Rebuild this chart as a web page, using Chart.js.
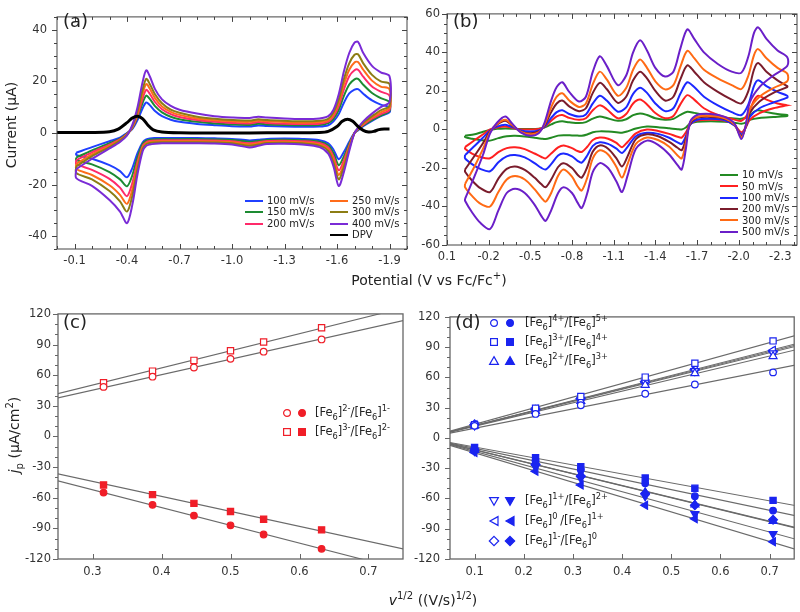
<!DOCTYPE html>
<html>
<head>
<meta charset="utf-8">
<script src="https://cdn.jsdelivr.net/npm/chart.js@4.4.1/dist/chart.umd.min.js"></script>
<style>
  body { margin:0; background:#fff; width:800px; height:612px; position:relative; overflow:hidden;
         font-family:'DejaVu Sans', sans-serif; color:#222; }
  canvas { position:absolute; }
  .t { position:absolute; white-space:nowrap; line-height:1; transform:translateY(-50%); }
  .c { transform:translate(-50%,-50%); }
  .rot { transform:translate(-50%,-50%) rotate(-90deg); }
  .leg { font-size:10px; }
  .fe { font-size:11.5px; }
  .ttl { font-size:14px; }
  .pl { font-size:18px; }
  .sw { position:absolute; width:18px; height:0; border-top:2.5px solid; }
  sub, sup { font-size:72%; line-height:0; }
  svg { position:absolute; }
</style>
</head>
<body>
<canvas id="ca" width="420" height="280" style="left:0;top:0"></canvas>
<canvas id="cb" width="400" height="280" style="left:400px;top:0"></canvas>
<canvas id="cc" width="420" height="290" style="left:0;top:300px"></canvas>
<canvas id="cd" width="400" height="290" style="left:400px;top:300px"></canvas>

<!-- подписи панелей -->
<div class="t pl" style="left:63px;top:21px">(a)</div>
<div class="t pl" style="left:453px;top:21px">(b)</div>
<div class="t pl" style="left:63px;top:322px">(c)</div>
<div class="t pl" style="left:455px;top:322px">(d)</div>

<!-- заголовки осей -->
<div class="t ttl rot" style="left:11px;top:125px">Current (µA)</div>
<div class="t ttl c" style="left:429px;top:280px">Potential (V vs Fc/Fc<sup>+</sup>)</div>
<div class="t ttl rot" style="left:14px;top:435px"><i>j</i><sub>p</sub> (µA/cm<sup>2</sup>)</div>
<div class="t ttl c" style="left:433px;top:600px"><i>v</i><sup>1/2</sup> ((V/s)<sup>1/2</sup>)</div>

<div id="legends"></div>

<script>
// ---------- (a) ЦВА при разных скоростях + DPV ----------
const aPot = [-0.11, -0.2, -0.3, -0.36, -0.4, -0.43, -0.46, -0.49, -0.51, -0.53, -0.56, -0.6, -0.65, -0.7, -0.8, -0.9, -1.0, -1.1, -1.15, -1.2,
              -1.3, -1.4, -1.5, -1.55, -1.58, -1.61, -1.64, -1.67, -1.7, -1.72, -1.75, -1.8, -1.85, -1.9];
// верхняя ветвь (слева направо)
const a400Up = [-14, -10, -6, -3.5, -1, 3, 10, 20, 24.3, 22, 17, 13, 10.5, 9, 7.5, 6.5, 6, 5.8, 6.3, 6, 5.6, 5.4, 5.6, 6.5, 9, 15, 24, 31, 35, 35.3, 31, 26, 23.5, 22];
const a300Up = [-13, -9, -5.5, -3, -0.8, 2.5, 8.5, 17, 21, 19, 15, 11.5, 9, 7.8, 6.3, 5.5, 5, 4.8, 5.3, 5, 4.7, 4.5, 4.7, 5.5, 8, 13, 21, 27, 30.3, 30.5, 27, 22.5, 20, 19];
const a250Up = [-12, -8.3, -5, -2.8, -0.6, 2.2, 7.7, 15.3, 19, 17.2, 13.5, 10.3, 8.2, 7, 5.6, 4.9, 4.5, 4.3, 4.8, 4.5, 4.2, 4, 4.2, 5, 7.2, 11.8, 19, 24.5, 27.3, 27.5, 24.5, 20.3, 18, 17];
const a200Up = [-10.5, -7.5, -4.5, -2.5, -0.4, 2, 6.8, 13.5, 16.7, 15.2, 12, 9.2, 7.3, 6.2, 5, 4.3, 3.9, 3.7, 4.2, 3.9, 3.6, 3.5, 3.6, 4.4, 6.4, 10.5, 17, 22, 24.3, 24.5, 21.8, 18, 16, 14.5];
const a150Up = [-9.5, -6.8, -4, -2.2, -0.2, 1.8, 6, 11.8, 14.5, 13.2, 10.4, 8, 6.3, 5.3, 4.3, 3.7, 3.3, 3.1, 3.6, 3.3, 3.1, 3, 3.1, 3.8, 5.5, 9, 14.5, 18.8, 20.8, 21, 18.7, 15.5, 13.5, 12];
const a100Up = [-7.7, -5.5, -3.2, -1.8, 0, 1.5, 5, 9.7, 11.8, 10.8, 8.5, 6.5, 5.1, 4.3, 3.5, 3, 2.6, 2.5, 2.9, 2.7, 2.5, 2.4, 2.5, 3, 4.5, 7.3, 11.8, 15.3, 16.8, 17, 15.2, 12.6, 11, 10];
// нижняя ветвь (на тех же потенциалах)
const a400Dn = [-17.5, -20.5, -26, -30.5, -35, -28, -16, -7, -5, -4.5, -4.2, -4, -4, -4, -4, -4.1, -4.5, -5.6, -5, -4.3, -4.2, -4.5, -5.5, -8, -13, -20.6, -15, -7, 0, 2, 4.5, 7.5, 10, 12];
const a300Dn = [-15.5, -18, -22.5, -26.5, -30.5, -24.5, -14, -6.2, -4.4, -3.9, -3.7, -3.6, -3.6, -3.6, -3.6, -3.7, -4, -5, -4.5, -3.9, -3.8, -4, -4.9, -7, -11.5, -18, -13, -6, 0, 1.8, 4, 6.5, 8.8, 10.5];
const a250Dn = [-14, -16.3, -20.3, -24, -27.5, -22, -12.6, -5.6, -4, -3.5, -3.3, -3.2, -3.2, -3.2, -3.2, -3.3, -3.6, -4.5, -4, -3.5, -3.4, -3.6, -4.4, -6.3, -10.3, -16.3, -11.8, -5.5, 0, 1.6, 3.6, 6, 8, 9.8];
const a200Dn = [-12, -14.3, -17.8, -21.2, -24.5, -19.5, -11.2, -5, -3.6, -3.1, -2.9, -2.8, -2.8, -2.8, -2.8, -2.9, -3.2, -4, -3.6, -3.1, -3, -3.2, -3.9, -5.6, -9.2, -14.5, -10.5, -4.9, 0, 1.4, 3.2, 5.5, 7.3, 9];
const a150Dn = [-10.5, -12.2, -15.2, -18, -20.7, -16.5, -9.4, -4.2, -3, -2.6, -2.5, -2.4, -2.4, -2.4, -2.4, -2.5, -2.7, -3.4, -3.1, -2.7, -2.6, -2.8, -3.4, -4.8, -7.9, -12.5, -9, -4.2, 0, 1.2, 2.9, 5, 6.7, 8.5];
const a100Dn = [-8.5, -10, -12.5, -14.8, -17.2, -13.7, -7.8, -3.6, -2.5, -2.1, -2, -2, -2, -2, -2, -2.1, -2.3, -2.9, -2.6, -2.3, -2.2, -2.3, -2.8, -4, -6.5, -10.2, -7.3, -3.4, 0, 1, 2.6, 4.7, 6.5, 8];
const dpvPot = [0, -0.1, -0.2, -0.3, -0.35, -0.4, -0.43, -0.46, -0.49, -0.52, -0.55, -0.6, -0.7, -0.9, -1.1, -1.3, -1.5, -1.55, -1.6, -1.63,
                -1.66, -1.69, -1.72, -1.75, -1.78, -1.81, -1.84, -1.87, -1.9];
const dpvCur = [0.2, 0.2, 0.2, 0.5, 1.5, 4, 5.8, 6.5, 5.5, 3, 1.2, 0.4, 0.1, 0, 0, 0.1, 0.2, 0.6, 2.5, 4.5, 5.3, 4.5, 2.5, 1, 0.4, 0.6, 1.3, 1.5, 1.5];
const aXTicks = [-0.1, -0.4, -0.7, -1.0, -1.3, -1.6, -1.9];
const aYTicks = [-40, -20, 0, 20, 40];

// ---------- (b) ЦВА при разных скоростях ----------
const bUpPot = [-0.03, -0.1, -0.16, -0.21, -0.26, -0.32, -0.37, -0.43, -0.5, -0.56, -0.6, -0.65, -0.69, -0.73, -0.78, -0.85, -0.9, -0.95, -1.0, -1.05,
                -1.13, -1.19, -1.24, -1.29, -1.34, -1.4, -1.47, -1.53, -1.58, -1.63, -1.68, -1.75, -1.85, -1.95, -2.02, -2.07, -2.11, -2.14, -2.2, -2.28, -2.35];
const bDnPot = [-0.03, -0.08, -0.14, -0.21, -0.27, -0.33, -0.39, -0.46, -0.53, -0.58, -0.61, -0.65, -0.7, -0.74, -0.8, -0.84, -0.87, -0.91, -0.95, -1.0,
                -1.06, -1.12, -1.16, -1.2, -1.26, -1.34, -1.42, -1.5, -1.56, -1.59, -1.62, -1.65, -1.7, -1.8, -1.9, -1.97, -2.02, -2.05, -2.08, -2.15, -2.25, -2.35];
const b500Up = [-36, -24, -13, -2, 3.5, 6.7, 3, -1.5, -3.3, -2, 3, 15, 22, 24.5, 19.5, 14.5, 17, 30, 38, 33, 23, 28, 40, 46.3, 41, 32, 27.5, 30, 42, 52, 47, 40, 34, 30, 29.5, 38, 50, 53, 47, 41, 37.5];
const b300Up = [-28.3, -19, -10, -1.5, 2.8, 5, 2.3, -1.2, -2.5, -1.5, 2.3, 11.5, 17, 18.8, 15, 11.7, 13.5, 23.5, 30, 26, 17.5, 21.5, 31, 36.3, 32, 25, 20.8, 23, 32.5, 40.8, 37, 31, 26.5, 23, 21, 28, 38.5, 41.7, 37, 32, 29];
const b200Up = [-20.8, -13.5, -7, -1, 2.5, 4.5, 2, -1, -2, -1, 1.8, 9, 13.5, 15, 12, 9.5, 11, 19, 24.2, 21, 13.8, 17, 25.5, 30, 26.5, 20, 15, 17, 26, 33.3, 30, 24.5, 19.5, 15.5, 13.5, 20, 31, 34.5, 30, 25.5, 22.5];
const b100Up = [-13.3, -8.5, -4.2, -0.5, 1.5, 2.5, 1.2, -0.5, -1, -0.5, 1.2, 6, 9, 10, 8, 6.7, 7.8, 13.5, 17.5, 15, 9.2, 11.5, 18.5, 21.7, 19, 13.5, 9.5, 11, 18.5, 24.5, 22, 17, 12.5, 9, 7.5, 13, 22.5, 25.5, 22.5, 19.5, 17.5];
const b50Up = [-9.2, -5.5, -2.5, 0, 1, 1.5, 0.8, 0, 0, 0.2, 1.2, 4.5, 6.8, 7.5, 6, 5, 5.8, 10, 12.5, 10.5, 5.8, 8, 13.5, 15.5, 13, 8.5, 5.8, 7, 13, 17.8, 15.5, 11, 7.5, 5.5, 4.5, 8.5, 15, 17.5, 15.5, 13.5, 12.5];
const b10Up = [-3.3, -2.5, -1.2, -0.3, 0.3, 0.5, 0.4, 0.2, 0.2, 0.4, 1, 2.6, 3.8, 4.2, 3.7, 3.3, 3.8, 5.6, 6.7, 5.9, 4.5, 5.3, 7.4, 8.3, 7.5, 5.8, 5, 5.5, 7.6, 9.2, 8.6, 7.5, 6.5, 5.8, 5.5, 6.8, 9.2, 10, 9, 8, 7.5];
const b500Dn = [-37, -43, -48.5, -51.7, -42, -33, -30.8, -33, -39, -45, -47.5, -42, -33, -30, -33, -38, -40.8, -33, -22, -17.5, -20, -27, -32.5, -24, -10, -5.8, -8, -13, -18.5, -20.8, -10, 4, 7.5, 8, 6.5, 3, -5, 2, 14, 22, 28, 33];
const b300Dn = [-30, -34.5, -38.5, -40, -32.5, -26, -24.2, -26, -31, -35.5, -37.5, -33, -24, -20.8, -24.5, -29.5, -31.7, -25, -15, -10.8, -13, -19.5, -25, -18, -7.5, -4.2, -5.5, -9, -13.5, -15, -7, 3.5, 6.5, 7, 5.8, 2.5, -4, 1.5, 10.5, 17, 21.5, 25];
const b200Dn = [-22, -26.5, -30.5, -32.5, -25.5, -20.5, -19.2, -21, -25, -28.5, -30, -26, -19.5, -17.5, -20, -23.5, -25, -19.5, -11.5, -8.3, -10, -15, -19.2, -14, -5, -2.5, -3.5, -6.5, -9.5, -10.8, -5, 3, 6, 6.5, 5.5, 2.5, -3.5, 1, 8.5, 14.5, 19, 22];
const b100Dn = [-15, -18, -20.5, -21.7, -17, -14, -13.3, -14.5, -17.5, -20, -20.8, -18, -13.5, -12.5, -14, -16.3, -17.2, -13.5, -8.5, -6.7, -7.5, -10, -12.2, -9, -3.5, -1.7, -2.3, -4.3, -6.7, -7.5, -3.5, 2.5, 5, 5.5, 4.8, 2, -2.5, 1, 6.5, 11, 14, 16.5];
const b50Dn = [-10, -12.5, -14.3, -15, -11.8, -9.7, -9.2, -10.2, -12.5, -14.3, -15, -12.5, -9.3, -8.3, -9.7, -11.2, -11.7, -9, -5.5, -4.2, -4.8, -7, -9.2, -6.5, -2, 0, -0.8, -2.3, -3.8, -4.2, -1.5, 2.5, 4.6, 5, 4.5, 2.2, -1.5, 1, 5, 8.5, 11, 12.5];
const b10Dn = [-4, -4.8, -5.5, -5.8, -4.5, -3.5, -3.3, -3.6, -4.3, -4.8, -5, -4.3, -3.2, -3, -3.1, -3.2, -3.3, -2.6, -1.5, -1, -1.1, -1.4, -1.7, -1, 0.5, 1.5, 1.2, 0.6, 0.1, 0, 1, 3, 4, 4.3, 4, 3.5, 3, 3.5, 5, 6, 6.5, 7];
const bXTicks = [0.1, -0.2, -0.5, -0.8, -1.1, -1.4, -1.7, -2.0, -2.3];
const bYTicks = [-60, -40, -20, 0, 20, 40, 60];

// ---------- (c) пиковые плотности тока ----------
const cRate = [0.316, 0.387, 0.447, 0.5, 0.548, 0.632];
const c21Open = [48.5, 58.5, 67.5, 76, 83, 95];
const c32Open = [52.5, 64, 74.5, 84, 92.5, 106.5];
const c21Fill = [-55, -67, -77.5, -87, -96, -110];
const c32Fill = [-47.5, -57, -65.5, -73.5, -81, -91.5];
const cXTicks = [0.3, 0.4, 0.5, 0.6, 0.7];
const cdYTicks = [-120, -90, -60, -30, 0, 30, 60, 90, 120];

// ---------- (d) ----------
const dRate = [0.1, 0.224, 0.316, 0.447, 0.548, 0.707];
const d45Open = [12, 23.8, 32.4, 43.8, 53, 65];
const d34Open = [13, 29.5, 41.2, 60.3, 74, 96.2];
const d23Open = [12, 26.5, 36.5, 52.5, 64, 81];
const d12Open = [12.5, 27.5, 38, 55, 66.5, 84];
const d01Open = [13, 28.5, 39, 56, 68, 87];
const dm10Open = [13.5, 28, 38.5, 55, 67.5, 85.5];
const d45Fill = [-11, -22.5, -31.5, -45, -57.8, -72];
const d34Fill = [-9.5, -19.7, -28.6, -39.7, -49.9, -61.9];
const d23Fill = [-12, -25, -36, -54, -66, -82.5];
const d12Fill = [-13, -29, -40, -57.8, -75.2, -95];
const d01Fill = [-14.5, -33, -46.6, -66.7, -80, -103];
const dm10Fill = [-12.5, -26, -38, -55, -66.7, -81];
const dXTicks = [0.1, 0.2, 0.3, 0.4, 0.5, 0.6, 0.7];

// ---------- helpers ----------
const FONT = 'DejaVu Sans';
const steps = (a, b, s) => { const out = []; for (let v = a; v <= b + 1e-9; v += s) out.push(Math.round(v * 1000) / 1000); return out; };
const pts = (xs, ys) => xs.map((x, i) => ({x, y: ys[i]}));

// замкнутая петля ЦВА: верхняя ветвь слева направо, нижняя обратно
function loop(upPot, up, dnPot, dn) {
    const p = pts(upPot, up);
    for (let i = dnPot.length - 1; i >= 0; i--) p.push({x: dnPot[i], y: dn[i]});
    p.push({x: upPot[0], y: up[0]});
    return p;
}

function cvSet(data, color, width, order) {
    return {data, showLine: true, borderColor: color, borderWidth: width, pointRadius: 0, tension: 0.3, order};
}

// рамка и засечки (большие и малые)
function frame(f) {
    return {
        id: 'frame',
        afterDraw(chart) {
            const {ctx, chartArea: a} = chart;
            const xs = chart.scales.x, ys = chart.scales.y;
            ctx.save();
            ctx.strokeStyle = f.color;
            ctx.lineWidth = f.width;
            ctx.strokeRect(a.left, a.top, a.right - a.left, a.bottom - a.top);
            ctx.lineWidth = 1;
            const ln = (x1, y1, x2, y2) => { ctx.beginPath(); ctx.moveTo(x1, y1); ctx.lineTo(x2, y2); ctx.stroke(); };
            const mark = (vals, len, isX) => vals.forEach(v => {
                if (isX) {
                    const p = Math.round(xs.getPixelForValue(v)) + 0.5;
                    ln(p, a.bottom, p, a.bottom - len);
                    if (f.mirror) ln(p, a.top, p, a.top + len);
                } else {
                    const p = Math.round(ys.getPixelForValue(v)) + 0.5;
                    ln(a.left - len, p, a.left, p);
                    if (f.mirror) ln(a.right, p, a.right - len, p);
                }
            });
            mark(f.xMinor, 3, true); mark(f.xMajor, 5, true);
            mark(f.yMinor, 3, false); mark(f.yMajor, 5, false);
            ctx.restore();
        }
    };
}

function axis(min, max, ticks, size, pad, fmt, reverse) {
    return {
        type: 'linear', min, max, reverse: !!reverse,
        afterBuildTicks: s => { s.ticks = ticks.map(v => ({value: v})); },
        afterFit: s => { if (s.isHorizontal()) s.height = size; else s.width = size; },
        grid: {display: false, drawTicks: false},
        border: {display: false},
        ticks: {autoSkip: false, maxRotation: 0, padding: pad, color: '#333', font: {family: FONT, size: 11.5}, callback: fmt}
    };
}

function makeChart(id, datasets, xAx, yAx, pad, fr) {
    return new Chart(document.getElementById(id), {
        type: 'scatter',
        data: {datasets},
        options: {
            responsive: false, animation: false, events: [],
            layout: {padding: pad},
            plugins: {legend: {display: false}, tooltip: {enabled: false}},
            scales: {x: xAx, y: yAx}
        },
        plugins: [frame(fr)]
    });
}

const fmt1 = v => v.toFixed(1);
const fmt0 = v => String(v);

// ---------- (a) ----------
const aSeries = [
    [a100Up, a100Dn, '#2040ff'], [a150Up, a150Dn, '#1d8b32'], [a200Up, a200Dn, '#ff2a6a'],
    [a250Up, a250Dn, '#ff6c1a'], [a300Up, a300Dn, '#8c7d14'], [a400Up, a400Dn, '#7a2bd6']
];
const aSets = aSeries.map((s, i) => cvSet(loop(aPot, s[0], aPot, s[1]), s[2], 2, 10 - i));
aSets.push(cvSet(pts(dpvPot, dpvCur), '#000', 3, 0));
makeChart('ca', aSets,
    axis(-2.0, 0.0, aXTicks, 31, 5, fmt1, true),
    axis(-45, 45, aYTicks, 57, 10, fmt0),
    {top: 5, right: 13, left: 0, bottom: 0},
    {color: '#444', width: 1, mirror: true, xMajor: aXTicks, xMinor: steps(-2.0, 0, 0.1), yMajor: aYTicks, yMinor: steps(-45, 45, 5)});

// ---------- (b) ----------
const bSeries = [
    [b10Up, b10Dn, '#238a23'], [b50Up, b50Dn, '#ff2020'], [b100Up, b100Dn, '#1c28ff'],
    [b200Up, b200Dn, '#7a1c2c'], [b300Up, b300Dn, '#ff6a14'], [b500Up, b500Dn, '#6a1fc8']
];
const bSets = bSeries.map((s, i) => cvSet(loop(bUpPot, s[0], bDnPot, s[1]), s[2], 2, 10 - i));
makeChart('cb', bSets,
    axis(-2.42, 0.1, bXTicks, 35, 5, fmt1, true),
    axis(-60, 60, bYTicks, 47, 7, fmt0),
    {top: 5, right: 3, left: 0, bottom: 0},
    {color: '#444', width: 1, mirror: true, xMajor: bXTicks, xMinor: steps(-2.4, 0.1, 0.1), yMajor: bYTicks, yMinor: steps(-60, 60, 5)});

// ---------- (c), (d): точки + прямые через начало координат ----------
function slope(xs, ys) {
    let sxy = 0, sxx = 0;
    xs.forEach((x, i) => { sxy += x * ys[i]; sxx += x * x; });
    return sxy / sxx;
}
function fitSet(xs, ys) {
    const k = slope(xs, ys);
    return {data: [{x: 0, y: 0}, {x: 1, y: k}], showLine: true, borderColor: '#6a6a6a', borderWidth: 1.1, pointRadius: 0, order: 20};
}
function markSet(xs, ys, color, style, filled, r, rot) {
    return {data: pts(xs, ys), pointStyle: style, pointRadius: r, pointRotation: rot || 0,
            backgroundColor: filled ? color : '#fff', borderColor: color, borderWidth: 1.2, order: 1};
}

const RED = '#f01e28';
const cPairs = [[c21Open, 'circle', false, 3.3], [c32Open, 'rect', false, 4.4], [c21Fill, 'circle', true, 3.3], [c32Fill, 'rect', true, 4.4]];
const cSets = [];
cPairs.forEach(p => { cSets.push(fitSet(cRate, p[0])); cSets.push(markSet(cRate, p[0], RED, p[1], p[2], p[3])); });
makeChart('cc', cSets,
    axis(0.25, 0.75, cXTicks, 31, 6, fmt1),
    axis(-120, 120, cdYTicks, 58, 7, fmt0),
    {top: 7, right: 17, left: 0, bottom: 0},
    {color: '#666', width: 1.3, mirror: false, xMajor: cXTicks, xMinor: [], yMajor: cdYTicks, yMinor: steps(-120, 120, 10)});

const BLUE = '#1a24f0';
const dPairs = [
    [d45Open, 'circle', false, 3.3, 0], [d34Open, 'rect', false, 4.4, 0], [d23Open, 'triangle', false, 4.6, 0],
    [d12Open, 'triangle', false, 4.6, 180], [d01Open, 'triangle', false, 4.6, -90], [dm10Open, 'rectRot', false, 4.4, 0],
    [d45Fill, 'circle', true, 3.3, 0], [d34Fill, 'rect', true, 4.4, 0], [d23Fill, 'triangle', true, 4.6, 0],
    [d12Fill, 'triangle', true, 4.6, 180], [d01Fill, 'triangle', true, 4.6, -90], [dm10Fill, 'rectRot', true, 4.4, 0]
];
const dSets = [];
dPairs.forEach(p => { dSets.push(fitSet(dRate, p[0])); dSets.push(markSet(dRate, p[0], BLUE, p[1], p[2], p[3], p[4])); });
makeChart('cd', dSets,
    axis(0.05, 0.75, dXTicks, 31, 6, fmt1),
    axis(-120, 120, cdYTicks, 50, 10, fmt0),
    {top: 7, right: 5, left: 0, bottom: 0},
    {color: '#666', width: 1.3, mirror: false, xMajor: dXTicks, xMinor: [], yMajor: cdYTicks, yMinor: steps(-120, 120, 10)});

// ---------- легенды (HTML) ----------
const shapes = {
    circle: '<circle cx="6" cy="6" r="3.4"/>',
    rect: '<rect x="2.6" y="2.6" width="6.8" height="6.8"/>',
    up: '<polygon points="6,1.6 10.4,9.4 1.6,9.4"/>',
    down: '<polygon points="1.6,2.6 10.4,2.6 6,10.4"/>',
    left: '<polygon points="10,1.6 10,10.4 2,6"/>',
    diamond: '<polygon points="6,1.3 10.7,6 6,10.7 1.3,6"/>'
};
function marker(x, y, shape, color, filled) {
    return `<svg width="12" height="12" style="left:${x - 6}px;top:${y - 6}px"><g fill="${filled ? color : '#fff'}" stroke="${color}" stroke-width="1.2">${shapes[shape]}</g></svg>`;
}
const fe = (a, b) => `[Fe<sub>6</sub>]<sup>${a}</sup>/[Fe<sub>6</sub>]<sup>${b}</sup>`;

let html = '';
// (a)
const aLeg = [['100 mV/s', '#2040ff', 245, 201], ['150 mV/s', '#1d8b32', 245, 212.3], ['200 mV/s', '#ff2a6a', 245, 223.7],
              ['250 mV/s', '#ff6c1a', 330, 201], ['300 mV/s', '#8c7d14', 330, 212.3], ['400 mV/s', '#7a2bd6', 330, 223.7], ['DPV', '#000', 330, 235]];
aLeg.forEach(e => {
    html += `<div class="sw" style="left:${e[2]}px;top:${e[3] - 1.2}px;border-color:${e[1]}"></div>`;
    html += `<div class="t leg" style="left:${e[2] + 22}px;top:${e[3]}px">${e[0]}</div>`;
});
// (b)
const bLeg = [['10 mV/s', '#238a23'], ['50 mV/s', '#ff2020'], ['100 mV/s', '#1c28ff'], ['200 mV/s', '#7a1c2c'], ['300 mV/s', '#ff6a14'], ['500 mV/s', '#6a1fc8']];
bLeg.forEach((e, i) => {
    const y = 175.3 + i * 11.34;
    html += `<div class="sw" style="left:720px;top:${y - 1.2}px;border-color:${e[1]}"></div>`;
    html += `<div class="t leg" style="left:742px;top:${y}px">${e[0]}</div>`;
});
// (c)
[['circle', fe('2-', '1-'), 413.3], ['rect', fe('3-', '2-'), 432.3]].forEach(e => {
    html += marker(287.3, e[2], e[0], RED, false) + marker(301.7, e[2], e[0], RED, true);
    html += `<div class="t fe" style="left:315px;top:${e[2]}px">${e[1]}</div>`;
});
// (d)
[['circle', fe('4+', '5+'), 323.3], ['rect', fe('3+', '4+'), 341.8], ['up', fe('2+', '3+'), 361],
 ['down', fe('1+', '2+'), 501], ['left', fe('0&nbsp;', '1+'), 520.5], ['diamond', fe('1-', '0'), 540.5]].forEach(e => {
    html += marker(494.3, e[2], e[0], BLUE, false) + marker(510, e[2], e[0], BLUE, true);
    html += `<div class="t fe" style="left:525px;top:${e[2]}px">${e[1]}</div>`;
});
document.getElementById('legends').innerHTML = html;
</script>
</body>
</html>
